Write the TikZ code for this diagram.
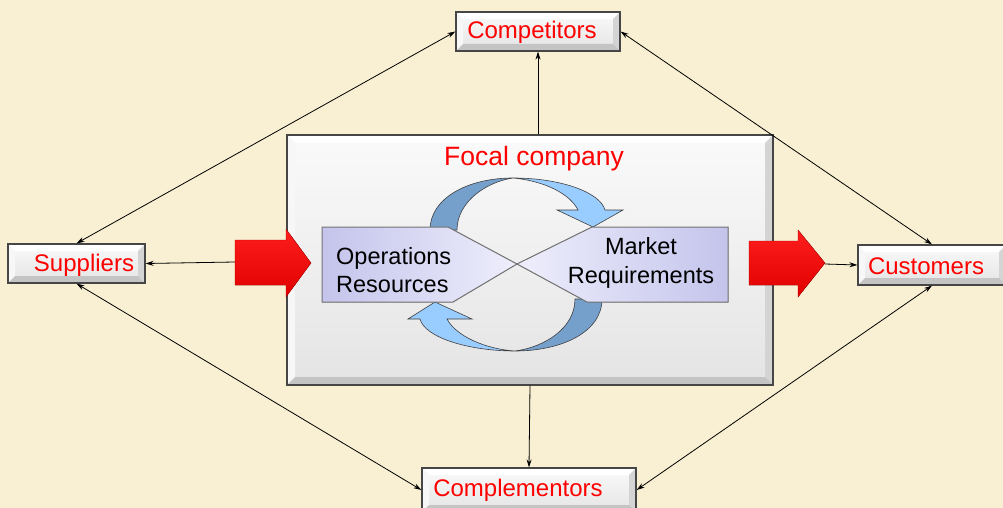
\documentclass[tikz,border=0pt]{standalone}
\usepackage{fontspec}
\setmainfont{Liberation Sans}
\usetikzlibrary{arrows.meta,calc}
\definecolor{bgc}{RGB}{249,239,210}
\definecolor{facet}{RGB}{250,250,250}
\definecolor{faceb}{RGB}{228,228,228}
\definecolor{edge}{RGB}{70,70,70}
\definecolor{lav}{RGB}{196,196,236}
\definecolor{lavl}{RGB}{238,238,252}
\definecolor{bluel}{RGB}{153,204,255}
\definecolor{blued}{RGB}{118,160,204}
\definecolor{redl}{RGB}{255,30,30}
\definecolor{redd}{RGB}{225,0,0}
\definecolor{bvt}{RGB}{255,255,255}
\definecolor{bvl}{RGB}{247,247,247}
\definecolor{bvr}{RGB}{212,212,212}
\definecolor{bvb}{RGB}{196,196,196}
\definecolor{txtred}{RGB}{255,0,0}
\tikzset{
  bevel/.style={path picture={
    \path (path picture bounding box.north west) coordinate (pNW)
          (path picture bounding box.north east) coordinate (pNE)
          (path picture bounding box.south east) coordinate (pSE)
          (path picture bounding box.south west) coordinate (pSW);
    \path ([xshift=#1,yshift=-#1]pNW) coordinate (qNW)
          ([xshift=-#1,yshift=-#1]pNE) coordinate (qNE)
          ([xshift=-#1,yshift=#1]pSE) coordinate (qSE)
          ([xshift=#1,yshift=#1]pSW) coordinate (qSW);
    \fill[bvt] (pNW) -- (pNE) -- (qNE) -- (qNW) -- cycle;
    \fill[bvl] (pNW) -- (qNW) -- (qSW) -- (pSW) -- cycle;
    \fill[bvr] (pNE) -- (pSE) -- (qSE) -- (qNE) -- cycle;
    \fill[bvb] (pSW) -- (qSW) -- (qSE) -- (pSE) -- cycle;
  }},
  bevel/.default=7pt,
  box/.style={draw=edge, line width=1.2pt, top color=facet, bottom color=faceb,
    inner sep=0pt, bevel},
  lbl/.style={text=txtred, font=\fontsize{24}{28}\selectfont, inner sep=0pt},
  inlbl/.style={text=black, font=\fontsize{23.5}{28.5}\selectfont, inner sep=0pt},
  conn/.style={line width=0.8pt, -{Stealth[length=8pt,width=5pt]}},
  conn2/.style={line width=0.8pt, {Stealth[length=8pt,width=5pt]}-{Stealth[length=8pt,width=5pt]}},
  ribbon/.style={draw=black!75, line width=0.6pt},
  redarr/.style={top color=redl, bottom color=redd, draw=red!70!black, line width=0.3pt},
}
\begin{document}
\begin{tikzpicture}[x=1pt,y=-1pt]
\useasboundingbox (0,0) rectangle (1003,508);
\fill[bgc] (0,0) rectangle (1003,508);

% focal company box
\node[box, bevel=8pt, minimum width=486pt, minimum height=250pt] (focal) at (530,260) {};

% blue curved arrows (behind the central shapes)
\filldraw[ribbon, fill=blued] (430,230) .. controls (430,198) and (468,178) .. (513,178)
   .. controls (486,182) and (457,202) .. (457,230) -- cycle;
\filldraw[ribbon, fill=bluel] (513,178) .. controls (560,178) and (600,192) .. (605,210)
   -- (623,210) -- (593,227) -- (557,210) -- (578,210)
   .. controls (570,194) and (545,181) .. (513,178) -- cycle;
\filldraw[ribbon, fill=blued] (602,299) .. controls (602,333) and (560,351) .. (515,351)
   .. controls (545,347) and (575,328) .. (575,299) -- cycle;
\filldraw[ribbon, fill=bluel] (515,351) .. controls (470,351) and (425,338) .. (420,319)
   -- (408,319) -- (435,302) -- (472,319) -- (447,319)
   .. controls (456,336) and (485,349) .. (515,351) -- cycle;

% central shapes
\filldraw[draw=black!55, line width=1pt, left color=lav, right color=lavl]
  (322,227) -- (448,227) -- (517,264) -- (453,302) -- (322,302) -- cycle;
\filldraw[draw=black!55, line width=1pt, left color=lavl, right color=lav]
  (517,264) -- (592,227) -- (728,227) -- (728,302) -- (587,302) -- cycle;

% red arrows
\filldraw[redarr] (235,240) -- (286,240) -- (286,229) -- (311,263) -- (286,297) -- (286,285) -- (235,285) -- cycle;
\filldraw[redarr] (749,241) -- (798,241) -- (798,230) -- (825,263) -- (798,297) -- (798,285) -- (749,285) -- cycle;
\coordinate (lt) at (235,262);
\coordinate (rt) at (825,264);

% outer boxes
\node[box, minimum width=164pt, minimum height=39pt] (comp) at (538,31.5) {};
\node[box, minimum width=137pt, minimum height=39pt] (sup) at (76.5,263.5) {};
\node[box, minimum width=148pt, minimum height=40pt] (cust) at (932,265) {};
\node[box, minimum width=214pt, minimum height=44pt] (compl) at (529,490) {};

% texts
\node[lbl] (compt) at (532,32) {Competitors};
\node[lbl] (supt) at (84,265) {Suppliers};
\node[lbl] (custt) at (926,266) {Customers};
\node[lbl] (complt) at (518,490) {Complementors};
\node[lbl, font=\fontsize{26.5}{30}\selectfont] (focalt) at (534,159) {Focal company};
\node[inlbl, anchor=west, align=left] (ops) at (336,270) {Operations\\Resources};
\node[inlbl, align=center] (mkt) at (641,263) {Market\\Requirements};

% connectors
\draw[conn] (focal.north -| comp.south) -- (comp.south);
\draw[conn] (focal.south) -- (compl.north);
\draw[conn] (lt) -- (sup.east);
\draw[conn] (rt) -- (cust.west);
\draw[conn2] (sup.north) -- (comp.west);
\draw[conn2] (comp.east) -- (cust.north);
\draw[conn2] (sup.south) -- (compl.west);
\draw[conn2] (cust.south) -- (compl.east);
\end{tikzpicture}
\end{document}
